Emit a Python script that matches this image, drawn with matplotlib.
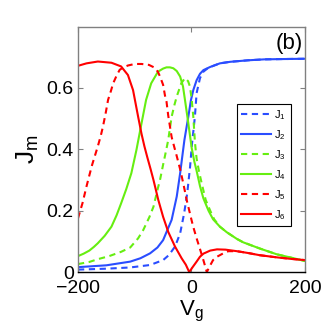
import matplotlib
matplotlib.use("Agg")
import matplotlib.pyplot as plt

# ---- data ----
x1 = [-200, -150, -108, -73, -50, -40, -29, -20, -13, -7.5, -2.5, 1, 6, 9, 15, 21, 30, 50, 68, 100, 128, 160, 200]
J1 = [0.008, 0.011, 0.015, 0.023, 0.039, 0.055, 0.083, 0.126, 0.191, 0.257, 0.343, 0.42, 0.506, 0.583, 0.632, 0.653, 0.666, 0.68, 0.685, 0.69, 0.693, 0.694, 0.695]

x2 = [-200, -150, -108, -90, -73, -60, -50, -35, -26, -20, -15.5, -12.5, -5.6, -1, 3.2, 9, 15, 21, 32.6, 50, 68, 100, 128, 160, 200]
J2 = [0.016, 0.022, 0.034, 0.045, 0.061, 0.08, 0.104, 0.17, 0.246, 0.322, 0.387, 0.43, 0.506, 0.56, 0.593, 0.625, 0.646, 0.658, 0.668, 0.68, 0.685, 0.69, 0.693, 0.694, 0.695]

x3 = [-200, -180, -165, -145, -124, -108, -94, -85, -74, -67, -59, -55.5, -50, -47, -41, -35, -30, -26, -18, -11.5, -6, -2.6, 0.5, 3.2, 6.2, 9, 13, 18, 25, 33, 40, 50, 62, 80, 91, 120, 150, 180, 200]
J3 = [0.026, 0.033, 0.042, 0.052, 0.066, 0.08, 0.11, 0.137, 0.18, 0.213, 0.275, 0.3, 0.35, 0.376, 0.43, 0.506, 0.545, 0.572, 0.615, 0.632, 0.622, 0.604, 0.56, 0.506, 0.42, 0.37, 0.33, 0.289, 0.235, 0.2, 0.172, 0.148, 0.13, 0.108, 0.097, 0.077, 0.058, 0.045, 0.036]

x4 = [-200, -190, -180, -172, -165, -153, -141, -132, -124, -115, -106, -97, -88, -80, -71, -59, -50, -44, -38, -32, -26, -20, -15, -11.5, -5.6, 0.3, 5, 9, 15, 21, 30, 38, 50, 62, 80, 91, 120, 150, 180, 200]
J4 = [0.052, 0.06, 0.07, 0.082, 0.094, 0.118, 0.148, 0.185, 0.224, 0.27, 0.322, 0.398, 0.485, 0.561, 0.615, 0.653, 0.663, 0.667, 0.667, 0.664, 0.655, 0.637, 0.605, 0.561, 0.485, 0.405, 0.36, 0.33, 0.28, 0.24, 0.2, 0.172, 0.148, 0.13, 0.108, 0.097, 0.077, 0.058, 0.045, 0.036]

x5 = [-200, -196, -192, -185, -180, -175, -170, -165, -160, -156, -151, -147, -142, -138, -132, -126.5, -120, -112, -100, -88, -75, -65, -59, -55, -50, -46.7, -44, -41, -35, -30, -27, -20, -14, -8.5, 0, 3, 9, 15, 20, 27, 33, 38, 45, 56, 65, 80, 100, 120, 150, 175, 200]
J5 = [0.175, 0.2, 0.225, 0.279, 0.315, 0.35, 0.38, 0.41, 0.443, 0.474, 0.52, 0.561, 0.59, 0.615, 0.64, 0.659, 0.667, 0.673, 0.678, 0.678, 0.675, 0.666, 0.652, 0.635, 0.61, 0.575, 0.555, 0.51, 0.44, 0.405, 0.385, 0.335, 0.285, 0.235, 0.17, 0.148, 0.11, 0.075, 0.045, 0.0, 0.022, 0.039, 0.05, 0.061, 0.068, 0.068, 0.062, 0.055, 0.048, 0.043, 0.039]

x6 = [-200, -185, -165, -141, -124, -112, -103, -94, -88, -83, -78, -72, -67, -58.5, -50, -41, -29, -17.4, -10, -4, 2, 9, 15, 21, 33, 45, 60, 80, 100, 120, 150, 175, 200]
J6 = [0.672, 0.68, 0.686, 0.682, 0.67, 0.642, 0.593, 0.506, 0.45, 0.41, 0.375, 0.335, 0.3, 0.235, 0.18, 0.131, 0.083, 0.045, 0.024, 0.0, 0.016, 0.034, 0.05, 0.06, 0.07, 0.074, 0.073, 0.068, 0.062, 0.055, 0.048, 0.043, 0.039]

labels = [r'J$_\mathregular{1}$', r'J$_\mathregular{2}$', r'J$_\mathregular{3}$',
          r'J$_\mathregular{4}$', r'J$_\mathregular{5}$', r'J$_\mathregular{6}$']
xticks = [-200, 0, 200]
xtick_labels = ['\u2212200', '0', '200']
yticks = [0, 0.2, 0.4, 0.6]
ytick_labels = ['0', '0.2', '0.4', '0.6']

blue = '#2a4dff'
green = '#66ee11'
red = '#ff0000'

plt.rcParams['font.family'] = ['Liberation Sans', 'DejaVu Sans']
plt.rcParams['mathtext.fontset'] = 'custom'
plt.rcParams['mathtext.rm'] = 'Liberation Sans'

fig = plt.figure(figsize=(3.27, 3.27), dpi=100)
ax = fig.add_axes([0.2385, 0.168, 0.6942, 0.749])

lw = 1.5
dash = (0, (3, 2.2))
ax.plot(x1, J1, color=blue, ls=dash, lw=lw, label=labels[0])
ax.plot(x2, J2, color=blue, ls='-', lw=lw, label=labels[1])
ax.plot(x3, J3, color=green, ls=dash, lw=lw, label=labels[2])
ax.plot(x4, J4, color=green, ls='-', lw=lw, label=labels[3])
ax.plot(x5, J5, color=red, ls=dash, lw=lw, label=labels[4])
ax.plot(x6, J6, color=red, ls='-', lw=lw, label=labels[5])

ax.set_xlim(-200, 200)
ax.set_ylim(0, 0.798)
ax.set_xticks(xticks)
ax.set_xticklabels(xtick_labels)
ax.set_yticks(yticks)
ax.set_yticklabels(ytick_labels)
ax.tick_params(direction='in', length=3.5, width=0.8, colors='#808080',
               labelcolor='black', labelsize=14, top=True, right=True)
ax.tick_params(axis='x', pad=6)
ax.tick_params(axis='y', pad=3)
for side in ['left', 'top', 'right']:
    ax.spines[side].set_color('#808080')
    ax.spines[side].set_linewidth(1.0)
ax.spines['bottom'].set_color('black')
ax.spines['bottom'].set_linewidth(1.0)

ax.set_xlabel(r'V$_\mathregular{g}$', fontsize=16, labelpad=1)
ax.set_ylabel(r'J$_\mathregular{m}$', fontsize=19, labelpad=4)

ax.text(0.99, 0.975, '(b)', transform=ax.transAxes, ha='right', va='top', fontsize=16)

leg = ax.legend(loc='upper left', bbox_to_anchor=(0.699, 0.687), fontsize=8,
                handlelength=2.7, handletextpad=0.3, labelspacing=0.55,
                borderpad=0.4, borderaxespad=0, fancybox=False, frameon=True,
                framealpha=1)
leg.get_frame().set_edgecolor('black')
leg.get_frame().set_linewidth(0.8)

fig.savefig('out.png', dpi=100)
